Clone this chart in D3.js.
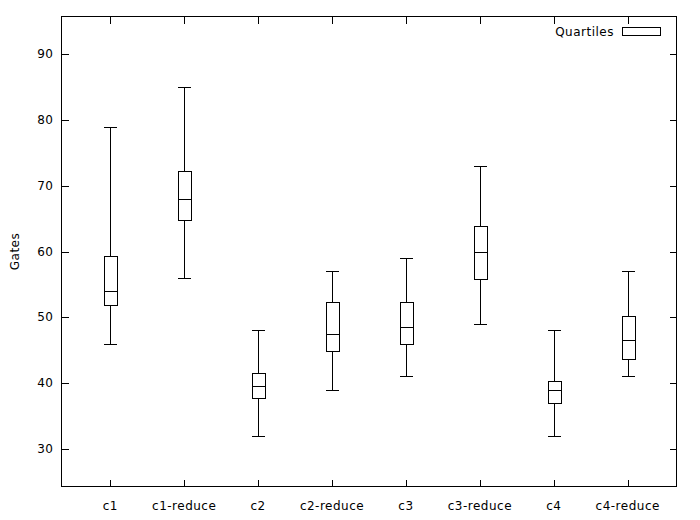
<!DOCTYPE html>
<html>
<head>
<meta charset="utf-8">
<script src="https://cdn.jsdelivr.net/npm/d3@7"></script>
<style>
  html, body { margin: 0; padding: 0; background: #fff; }
  svg { display: block; }
  text { font-family: "DejaVu Sans", sans-serif; font-size: 12px; letter-spacing: 0.5px; fill: #000; }
</style>
</head>
<body>
<svg id="chart" width="700" height="520"></svg>
<script>
const categories = ["c1", "c1-reduce", "c2", "c2-reduce", "c3", "c3-reduce", "c4", "c4-reduce"];
const minVals    = [46, 56, 32, 39, 41, 49, 32, 41];
const q1Vals     = [51.8, 64.75, 37.65, 44.85, 46, 55.75, 37, 43.7];
const medianVals = [54, 68, 39.5, 47.5, 48.5, 60, 39, 46.5];
const q3Vals     = [59.25, 72.3, 41.45, 52.25, 52.25, 63.9, 40.25, 50.25];
const maxVals    = [79, 85, 48, 57, 59, 73, 48, 57];
const yTicks     = [30, 40, 50, 60, 70, 80, 90];
const yLabel = "Gates";
const legendLabel = "Quartiles";

const svg = d3.select("#chart");
const L = 61.5, R = 676.5, T = 16.5, B = 486.5;
const tickLen = 7;
const boxW = 13;

const x = d3.scaleLinear().domain([-0.66, categories.length - 1 + 0.66]).range([L, R]);
const y = d3.scaleLinear().domain([24.28, 95.83]).range([486.3, 16]);

const g = svg.append("g").attr("shape-rendering", "crispEdges");

// frame
g.append("rect").attr("x", L).attr("y", T).attr("width", R - L).attr("height", B - T)
  .attr("fill", "none").attr("stroke", "#000").attr("stroke-width", 1);

// y ticks (left and mirrored right)
yTicks.forEach(v => {
  const yy = Math.round(y(v)) + 0.5;
  g.append("line").attr("x1", L).attr("x2", L + tickLen).attr("y1", yy).attr("y2", yy).attr("stroke", "#000");
  g.append("line").attr("x1", R - tickLen).attr("x2", R).attr("y1", yy).attr("y2", yy).attr("stroke", "#000");
  svg.append("text").attr("x", L - 8).attr("y", y(v)).attr("text-anchor", "end")
    .attr("dominant-baseline", "central").text(v);
});

// x ticks (bottom and mirrored top)
categories.forEach((c, i) => {
  const xx = Math.round(x(i)) + 0.5;
  g.append("line").attr("x1", xx).attr("x2", xx).attr("y1", B).attr("y2", B - tickLen).attr("stroke", "#000");
  g.append("line").attr("x1", xx).attr("x2", xx).attr("y1", T).attr("y2", T + tickLen).attr("stroke", "#000");
  svg.append("text").attr("x", x(i)).attr("y", 510).attr("text-anchor", "middle").text(c);
});

// boxes
categories.forEach((c, i) => {
  const cx = Math.round(x(i)) + 0.5;
  const x0 = cx - boxW / 2, x1 = cx + boxW / 2;
  const py = v => Math.round(y(v)) + 0.5;
  // whiskers
  g.append("line").attr("x1", cx).attr("x2", cx).attr("y1", py(maxVals[i])).attr("y2", py(q3Vals[i])).attr("stroke", "#000");
  g.append("line").attr("x1", cx).attr("x2", cx).attr("y1", py(q1Vals[i])).attr("y2", py(minVals[i])).attr("stroke", "#000");
  // caps
  g.append("line").attr("x1", x0).attr("x2", x1).attr("y1", py(maxVals[i])).attr("y2", py(maxVals[i])).attr("stroke", "#000");
  g.append("line").attr("x1", x0).attr("x2", x1).attr("y1", py(minVals[i])).attr("y2", py(minVals[i])).attr("stroke", "#000");
  // box
  g.append("rect").attr("x", x0).attr("y", py(q3Vals[i])).attr("width", boxW)
    .attr("height", py(q1Vals[i]) - py(q3Vals[i])).attr("fill", "none").attr("stroke", "#000");
  // median
  g.append("line").attr("x1", x0).attr("x2", x1).attr("y1", py(medianVals[i])).attr("y2", py(medianVals[i])).attr("stroke", "#000");
});

// y label
svg.append("text").attr("transform", "translate(15," + ((T + B) / 2) + ") rotate(-90)")
  .attr("text-anchor", "middle").attr("dominant-baseline", "central").text(yLabel);

// legend
svg.append("text").attr("x", 614).attr("y", 32).attr("text-anchor", "end")
  .attr("dominant-baseline", "central").text(legendLabel);
g.append("rect").attr("x", 622.5).attr("y", 27.5).attr("width", 38).attr("height", 8)
  .attr("fill", "none").attr("stroke", "#000");
</script>
</body>
</html>
